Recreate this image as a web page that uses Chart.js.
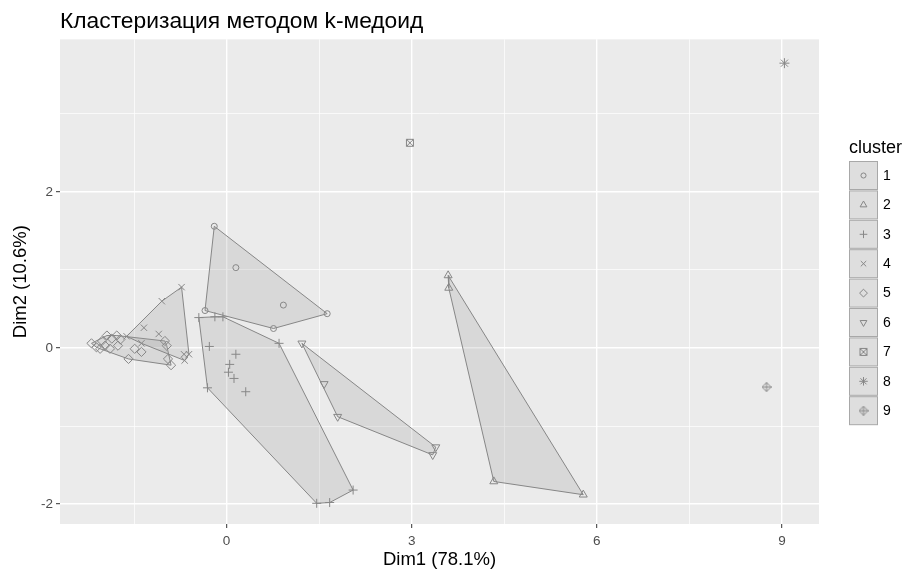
<!DOCTYPE html>
<html>
<head>
<meta charset="utf-8">
<script src="https://cdn.jsdelivr.net/npm/chart.js@4/dist/chart.umd.min.js"></script>
<style>
html,body{margin:0;padding:0;background:#fff}
</style>
</head>
<body>
<canvas id="mainChart" width="906" height="573"></canvas>
<script>

// точки кластеров: [Dim1, Dim2]
const c1=[[-0.20,1.56],[0.15,1.03],[0.92,0.55],[1.63,0.44],[0.76,0.25],[-0.35,0.48]]
const c2=[[3.59,0.93],[3.60,0.77],[4.33,-1.71],[5.78,-1.88]]
const c3=[[-0.45,0.39],[-0.19,0.40],[-0.06,0.40],[0.85,0.06],[-0.28,0.02],[0.15,-0.08],[0.05,-0.21],[0.03,-0.31],[0.12,-0.39],[0.31,-0.56],[-0.31,-0.51],[1.46,-1.99],[1.67,-1.98],[2.05,-1.82]]
const c4=[[-0.73,0.78],[-1.05,0.60],[-1.34,0.26],[-1.10,0.18],[-1.38,0.06],[-0.69,-0.08],[-0.61,-0.08],[-0.68,-0.16],[-1.62,0.15]]
const c5=[[-2.19,0.06],[-2.11,0.01],[-1.94,0.16],[-1.86,0.12],[-1.78,0.16],[-1.97,0.03],[-1.76,0.03],[-1.89,-0.01],[-2.05,-0.01],[-1.59,-0.14],[-1.49,-0.01],[-1.38,-0.05],[-1.00,0.09],[-0.97,0.03],[-0.90,-0.22],[-0.95,-0.14],[-2.02,0.09],[-1.72,0.11]]
const c6=[[1.22,0.06],[1.58,-0.46],[1.80,-0.88],[3.39,-1.27],[3.34,-1.37]]
const c7=[[2.97,2.63]]
const c8=[[9.04,3.65]]
const c9=[[8.75,-0.50]]

const clusterNames=["1","2","3","4","5","6","7","8","9"]
const xTicks=[-1.5,0,1.5,3,4.5,6,7.5,9]
const xLabels=[0,3,6,9]
const yTicks=[-2,-1,0,1,2,3]
const yLabels=[-2,0,2]

const chartTitle="Кластеризация методом k-медоид"
const xTitle="Dim1 (78.1%)"
const yTitle="Dim2 (10.6%)"

const FONT="'Liberation Sans', Arial, sans-serif"
const GREY="#878787"
const HULL_FILL="rgba(150,150,150,0.22)"

Chart.defaults.font.family=FONT

// составные значки (7 и 9) рисуем на маленьком холсте
function symbolImage(kind){
const c=document.createElement("canvas")
c.width=10
c.height=10
const g=c.getContext("2d")
g.strokeStyle=GREY
g.lineWidth=1
g.beginPath()
if(kind==="squareCross"){
g.rect(1.5,1.5,7,7)
g.moveTo(1.5,1.5);g.lineTo(8.5,8.5)
g.moveTo(8.5,1.5);g.lineTo(1.5,8.5)
}
if(kind==="diamondPlus"){
g.moveTo(5,0.5);g.lineTo(9.5,5);g.lineTo(5,9.5);g.lineTo(0.5,5);g.closePath()
g.moveTo(5,0.5);g.lineTo(5,9.5)
g.moveTo(0.5,5);g.lineTo(9.5,5)
}
g.stroke()
return c
}

const symbols=[
{pointStyle:"circle",radius:3},
{pointStyle:"triangle",radius:4.6},
{pointStyle:"cross",radius:4.5},
{pointStyle:"crossRot",radius:4.5},
{pointStyle:"rectRot",radius:4.6},
{pointStyle:"triangle",radius:4.6,rotation:180},
{pointStyle:symbolImage("squareCross"),radius:5},
{pointStyle:"star",radius:5},
{pointStyle:symbolImage("diamondPlus"),radius:5}
]

function convexHull(pts){
const p=[...pts].sort((a,b)=>a[0]-b[0]||a[1]-b[1])
const cross=(o,a,b)=>(a[0]-o[0])*(b[1]-o[1])-(a[1]-o[1])*(b[0]-o[0])
const lower=[]
const upper=[]
p.forEach(q=>{
while(lower.length>=2&&cross(lower[lower.length-2],lower[lower.length-1],q)<=0)lower.pop()
lower.push(q)
})
p.slice().reverse().forEach(q=>{
while(upper.length>=2&&cross(upper[upper.length-2],upper[upper.length-1],q)<=0)upper.pop()
upper.push(q)
})
lower.pop()
upper.pop()
const h=lower.concat(upper)
h.push(h[0])
return h
}

const clusters=[c1,c2,c3,c4,c5,c6,c7,c8,c9]
const datasets=[]

clusters.forEach((pts,i)=>{
if(pts.length>=3){
datasets.push({
type:"line",
label:"hull "+clusterNames[i],
data:convexHull(pts).map(p=>({x:p[0],y:p[1]})),
borderColor:GREY,
borderWidth:1,
backgroundColor:HULL_FILL,
fill:"shape",
tension:0,
pointRadius:0,
order:2
})
}
})

clusters.forEach((pts,i)=>{
const s=symbols[i]
datasets.push({
type:"scatter",
label:clusterNames[i],
data:pts.map(p=>({x:p[0],y:p[1]})),
pointStyle:s.pointStyle,
pointRadius:s.radius,
pointRotation:s.rotation||0,
pointBorderColor:GREY,
pointBackgroundColor:"rgba(0,0,0,0)",
pointBorderWidth:1,
order:1
})
})

const panelBg={
id:"panelBg",
beforeDraw(chart){
const a=chart.chartArea
const ctx=chart.ctx
ctx.save()
ctx.fillStyle="#ebebeb"
ctx.fillRect(a.left,a.top,a.right-a.left,a.bottom-a.top)
ctx.restore()
}
}

// легенда в стиле ggplot
const clusterLegend={
id:"clusterLegend",
afterDraw(chart){
const ctx=chart.ctx
const left=849
const top=161
const step=29.4
ctx.save()
ctx.fillStyle="#000"
ctx.font="18px "+FONT
ctx.textBaseline="middle"
ctx.fillText("cluster",left,148)
ctx.font="14px "+FONT
clusterNames.forEach((name,i)=>{
const y=top+i*step
ctx.fillStyle="#dedede"
ctx.fillRect(left+0.5,y+0.5,28,28)
ctx.strokeStyle="#a8a8a8"
ctx.lineWidth=1
ctx.strokeRect(left+0.5,y+0.5,28,28)
const s=symbols[i]
ctx.strokeStyle=GREY
ctx.fillStyle="rgba(0,0,0,0)"
Chart.helpers.drawPoint(ctx,{pointStyle:s.pointStyle,radius:s.radius*0.85,rotation:s.rotation||0,borderWidth:1},left+14.5,y+14.5)
ctx.fillStyle="#000"
ctx.fillText(name,left+34,y+15)
})
ctx.restore()
}
}

const majorX=v=>xLabels.includes(v)
const majorY=v=>yLabels.includes(v)

new Chart(document.getElementById("mainChart"),{
type:"scatter",
data:{datasets},
options:{
responsive:false,
animation:false,
events:[],
layout:{padding:{right:87}},
plugins:{
legend:{display:false},
tooltip:{enabled:false},
title:{
display:true,
text:chartTitle,
align:"start",
fullSize:false,
color:"#000",
font:{size:22.8,weight:"normal"},
padding:{top:8,bottom:4}
}
},
scales:{
x:{
type:"linear",
min:-2.70,
max:9.60,
afterBuildTicks(axis){axis.ticks=xTicks.map(v=>({value:v}))},
afterFit(axis){axis.height=49},
border:{display:false},
grid:{
color:"#ffffff",
lineWidth:c=>majorX(c.tick.value)?1.4:0.7,
drawTicks:true,
tickLength:4,
tickColor:c=>majorX(c.tick.value)?"#333333":"rgba(0,0,0,0)",
tickWidth:1
},
ticks:{
color:"#4d4d4d",
font:{size:13.5},
padding:5,
maxRotation:0,
autoSkip:false,
callback:v=>majorX(v)?String(v):""
},
title:{display:true,text:xTitle,color:"#000",font:{size:18.5},padding:{top:0,bottom:2}}
},
y:{
type:"linear",
min:-2.255,
max:3.955,
afterBuildTicks(axis){axis.ticks=yTicks.map(v=>({value:v}))},
afterFit(axis){axis.width=60},
border:{display:false},
grid:{
color:"#ffffff",
lineWidth:c=>majorY(c.tick.value)?1.4:0.7,
drawTicks:true,
tickLength:4,
tickColor:c=>majorY(c.tick.value)?"#333333":"rgba(0,0,0,0)",
tickWidth:1
},
ticks:{
color:"#4d4d4d",
font:{size:13.5},
padding:3,
autoSkip:false,
callback:v=>majorY(v)?String(v):""
},
title:{display:true,text:yTitle,color:"#000",font:{size:18.5},padding:{top:10,bottom:0}}
}
}
},
plugins:[panelBg,clusterLegend]
})

</script>
</body>
</html>
